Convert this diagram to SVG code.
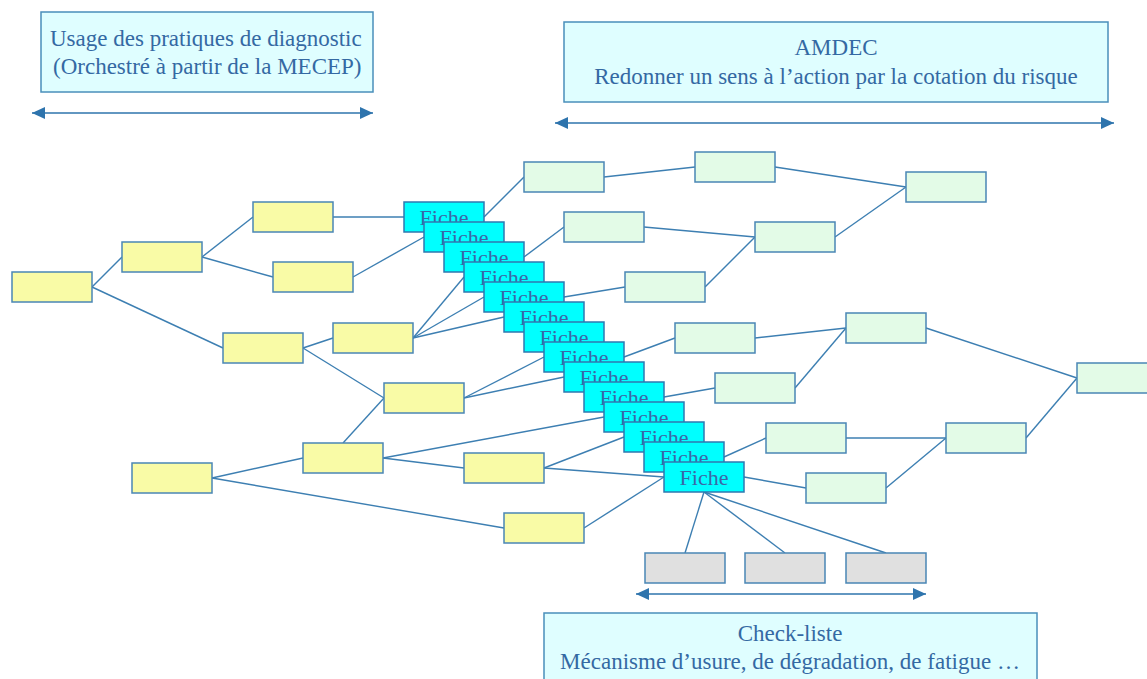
<svg xmlns="http://www.w3.org/2000/svg" width="1147" height="679" viewBox="0 0 1147 679">
  <style>
    .lbl { fill: #dffeff; stroke: #4a8fbb; stroke-width: 1.5; }
    .lbl-text { font-family: "Liberation Serif", "Times New Roman", serif; font-size: 23px; fill: #3469a3; }
    .y { fill: #f9fba6; stroke: #4a86b5; stroke-width: 1.5; }
    .g { fill: #e3fbe7; stroke: #4a86b5; stroke-width: 1.5; }
    .k { fill: #e0e0e0; stroke: #4a86b5; stroke-width: 1.5; }
    .f { fill: #00ffff; stroke: #2f78b0; stroke-width: 1.5; }
    .f-text { font-family: "Liberation Serif", "Times New Roman", serif; font-size: 22px; fill: #3a68a6; text-anchor: middle; }
    .c { stroke: #3d7fb2; stroke-width: 1.4; fill: none; }
    .span { stroke: #2e74ad; stroke-width: 1.6; fill: none; marker-start: url(#tip); marker-end: url(#tip); }
  </style>
  <defs>
    <marker id="tip" viewBox="0 0 13 12" refX="13" refY="6" markerWidth="13" markerHeight="12" markerUnits="userSpaceOnUse" orient="auto-start-reverse">
      <path d="M0,0 L13,6 L0,12 z" fill="#2e74ad"/>
    </marker>
  </defs>

  <rect width="1147" height="679" fill="#ffffff"/>

  <!-- Scope banners -->
  <g id="banner-diagnostic">
    <rect class="lbl" x="41" y="12" width="332" height="80"/>
    <text class="lbl-text" x="50" y="46">Usage des pratiques de diagnostic</text>
    <text class="lbl-text" x="53" y="74">(Orchestré à partir de la MECEP)</text>
  </g>
  <g id="banner-amdec">
    <rect class="lbl" x="564" y="22" width="544" height="80"/>
    <text class="lbl-text" x="836" y="55" text-anchor="middle">AMDEC</text>
    <text class="lbl-text" x="836" y="84" text-anchor="middle">Redonner un sens à l’action par la cotation du risque</text>
  </g>
  <g id="banner-checklist">
    <rect class="lbl" x="544" y="613" width="493" height="80"/>
    <text class="lbl-text" x="790" y="641" text-anchor="middle">Check-liste</text>
    <text class="lbl-text" x="790" y="669" text-anchor="middle">Mécanisme d’usure, de dégradation, de fatigue …</text>
  </g>

  <!-- Span arrows -->
  <g id="spans">
    <line class="span" x1="32" y1="113" x2="373" y2="113"/>
    <line class="span" x1="555" y1="123" x2="1114" y2="123"/>
    <line class="span" x1="636" y1="594" x2="926" y2="594"/>
  </g>

  <!-- Connectors -->
  <g id="connectors">
    <!-- diagnostic tree -->
    <line class="c" x1="92" y1="287" x2="122" y2="257"/>
    <line class="c" x1="92" y1="287" x2="223" y2="348"/>
    <line class="c" x1="202" y1="257" x2="253" y2="217"/>
    <line class="c" x1="202" y1="257" x2="273" y2="277"/>
    <line class="c" x1="333" y1="217" x2="404" y2="217"/>
    <line class="c" x1="353" y1="277" x2="424" y2="237"/>
    <line class="c" x1="303" y1="348" x2="333" y2="338"/>
    <line class="c" x1="303" y1="348" x2="384" y2="398"/>
    <line class="c" x1="413" y1="338" x2="464" y2="277"/>
    <line class="c" x1="413" y1="338" x2="484" y2="297"/>
    <line class="c" x1="413" y1="338" x2="504" y2="317"/>
    <line class="c" x1="343" y1="443" x2="384" y2="398"/>
    <line class="c" x1="464" y1="398" x2="544" y2="357"/>
    <line class="c" x1="464" y1="398" x2="564" y2="377"/>
    <line class="c" x1="212" y1="478" x2="303" y2="458"/>
    <line class="c" x1="212" y1="478" x2="504" y2="528"/>
    <line class="c" x1="383" y1="458" x2="604" y2="417"/>
    <line class="c" x1="383" y1="458" x2="464" y2="468"/>
    <line class="c" x1="544" y1="468" x2="624" y2="437"/>
    <line class="c" x1="544" y1="468" x2="664" y2="477"/>
    <line class="c" x1="584" y1="528" x2="664" y2="477"/>
    <!-- fiches to AMDEC network -->
    <line class="c" x1="484" y1="217" x2="524" y2="177"/>
    <line class="c" x1="524" y1="257" x2="564" y2="227"/>
    <line class="c" x1="564" y1="297" x2="625" y2="287"/>
    <line class="c" x1="624" y1="357" x2="675" y2="338"/>
    <line class="c" x1="664" y1="397" x2="715" y2="388"/>
    <line class="c" x1="724" y1="457" x2="766" y2="438"/>
    <line class="c" x1="744" y1="477" x2="806" y2="488"/>
    <!-- AMDEC network -->
    <line class="c" x1="604" y1="177" x2="695" y2="167"/>
    <line class="c" x1="775" y1="167" x2="906" y2="187"/>
    <line class="c" x1="644" y1="227" x2="755" y2="237"/>
    <line class="c" x1="705" y1="287" x2="755" y2="237"/>
    <line class="c" x1="835" y1="237" x2="906" y2="187"/>
    <line class="c" x1="755" y1="338" x2="846" y2="328"/>
    <line class="c" x1="795" y1="388" x2="846" y2="328"/>
    <line class="c" x1="926" y1="328" x2="1077" y2="378"/>
    <line class="c" x1="846" y1="438" x2="946" y2="438"/>
    <line class="c" x1="886" y1="488" x2="946" y2="438"/>
    <line class="c" x1="1026" y1="438" x2="1077" y2="378"/>
    <!-- check-list items -->
    <line class="c" x1="704" y1="492" x2="685" y2="553"/>
    <line class="c" x1="704" y1="492" x2="785" y2="553"/>
    <line class="c" x1="704" y1="492" x2="886" y2="553"/>
  </g>

  <!-- Diagnostic nodes -->
  <g id="d1"><rect class="y" x="12" y="272" width="80" height="30"/></g>
  <g id="d2"><rect class="y" x="122" y="242" width="80" height="30"/></g>
  <g id="d3"><rect class="y" x="253" y="202" width="80" height="30"/></g>
  <g id="d4"><rect class="y" x="273" y="262" width="80" height="30"/></g>
  <g id="d5"><rect class="y" x="223" y="333" width="80" height="30"/></g>
  <g id="d6"><rect class="y" x="333" y="323" width="80" height="30"/></g>
  <g id="d7"><rect class="y" x="384" y="383" width="80" height="30"/></g>
  <g id="d8"><rect class="y" x="132" y="463" width="80" height="30"/></g>
  <g id="d9"><rect class="y" x="303" y="443" width="80" height="30"/></g>
  <g id="d10"><rect class="y" x="464" y="453" width="80" height="30"/></g>
  <g id="d11"><rect class="y" x="504" y="513" width="80" height="30"/></g>

  <!-- AMDEC nodes -->
  <g id="a1"><rect class="g" x="524" y="162" width="80" height="30"/></g>
  <g id="a2"><rect class="g" x="695" y="152" width="80" height="30"/></g>
  <g id="a3"><rect class="g" x="906" y="172" width="80" height="30"/></g>
  <g id="a4"><rect class="g" x="564" y="212" width="80" height="30"/></g>
  <g id="a5"><rect class="g" x="755" y="222" width="80" height="30"/></g>
  <g id="a6"><rect class="g" x="625" y="272" width="80" height="30"/></g>
  <g id="a7"><rect class="g" x="675" y="323" width="80" height="30"/></g>
  <g id="a8"><rect class="g" x="846" y="313" width="80" height="30"/></g>
  <g id="a9"><rect class="g" x="715" y="373" width="80" height="30"/></g>
  <g id="a10"><rect class="g" x="1077" y="363" width="80" height="30"/></g>
  <g id="a11"><rect class="g" x="766" y="423" width="80" height="30"/></g>
  <g id="a12"><rect class="g" x="946" y="423" width="80" height="30"/></g>
  <g id="a13"><rect class="g" x="806" y="473" width="80" height="30"/></g>

  <!-- Check-list items -->
  <g id="k1"><rect class="k" x="645" y="553" width="80" height="30"/></g>
  <g id="k2"><rect class="k" x="745" y="553" width="80" height="30"/></g>
  <g id="k3"><rect class="k" x="846" y="553" width="80" height="30"/></g>

  <!-- Stacked fiches, each one offset 20px right and down -->
  <g id="fiche-1"><rect class="f" x="404" y="202" width="80" height="30"/><text class="f-text" x="444" y="225">Fiche</text></g>
  <g id="fiche-2"><rect class="f" x="424" y="222" width="80" height="30"/><text class="f-text" x="464" y="245">Fiche</text></g>
  <g id="fiche-3"><rect class="f" x="444" y="242" width="80" height="30"/><text class="f-text" x="484" y="265">Fiche</text></g>
  <g id="fiche-4"><rect class="f" x="464" y="262" width="80" height="30"/><text class="f-text" x="504" y="285">Fiche</text></g>
  <g id="fiche-5"><rect class="f" x="484" y="282" width="80" height="30"/><text class="f-text" x="524" y="305">Fiche</text></g>
  <g id="fiche-6"><rect class="f" x="504" y="302" width="80" height="30"/><text class="f-text" x="544" y="325">Fiche</text></g>
  <g id="fiche-7"><rect class="f" x="524" y="322" width="80" height="30"/><text class="f-text" x="564" y="345">Fiche</text></g>
  <g id="fiche-8"><rect class="f" x="544" y="342" width="80" height="30"/><text class="f-text" x="584" y="365">Fiche</text></g>
  <g id="fiche-9"><rect class="f" x="564" y="362" width="80" height="30"/><text class="f-text" x="604" y="385">Fiche</text></g>
  <g id="fiche-10"><rect class="f" x="584" y="382" width="80" height="30"/><text class="f-text" x="624" y="405">Fiche</text></g>
  <g id="fiche-11"><rect class="f" x="604" y="402" width="80" height="30"/><text class="f-text" x="644" y="425">Fiche</text></g>
  <g id="fiche-12"><rect class="f" x="624" y="422" width="80" height="30"/><text class="f-text" x="664" y="445">Fiche</text></g>
  <g id="fiche-13"><rect class="f" x="644" y="442" width="80" height="30"/><text class="f-text" x="684" y="465">Fiche</text></g>
  <g id="fiche-14"><rect class="f" x="664" y="462" width="80" height="30"/><text class="f-text" x="704" y="485">Fiche</text></g>
</svg>
